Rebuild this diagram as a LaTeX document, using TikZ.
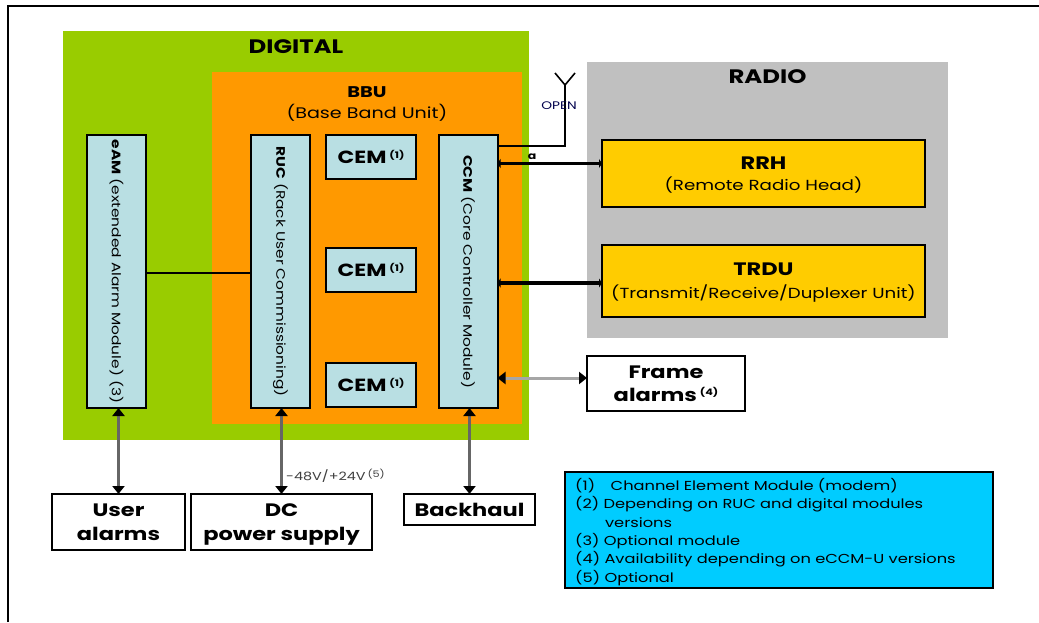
\documentclass[tikz,border=0pt]{standalone}
\usepackage{fontspec}
\setmainfont[FakeStretch=1.25]{Poppins}
\usetikzlibrary{arrows.meta,positioning}
\definecolor{digitalgreen}{HTML}{99CC00}
\definecolor{bbuorange}{HTML}{FF9900}
\definecolor{radiogrey}{HTML}{C0C0C0}
\definecolor{modblue}{HTML}{B9DFE3}
\definecolor{rfyellow}{HTML}{FFCC00}
\definecolor{noteblue}{HTML}{00CCFF}
\newcommand{\fsz}[1]{\fontsize{#1}{#1}\selectfont\lineskiplimit=-30pt\relax}
\newcommand{\noteref}[1]{\raisebox{.55ex}{\fsz{9}(#1)}}
\tikzset{
    %Define standard arrow tip
    >={Triangle[length=8pt,width=12pt,color=black]},
    %Define style for boxes
    region/.style={
           rectangle,
           anchor=north west,
           inner sep=0pt,
           outer sep=0pt},
    regiontitle/.style={
           font=\fsz{19.5}\bfseries,
           inner sep=0pt},
    module/.style={
           rectangle,
           draw=black, line width=2pt,
           fill=modblue,
           inner sep=0pt,
           outer sep=0pt,
           minimum width=59pt,
           minimum height=273pt},
    vertlabel/.style={
           rotate=-90,
           font=\fsz{12.3},
           inner sep=0pt},
    cemrect/.style={
           rectangle,
           draw=black, line width=2pt,
           fill=modblue,
           inner sep=0pt,
           outer sep=0pt,
           minimum width=90pt,
           minimum height=44pt,
           font=\fsz{17.6}\bfseries},
    rfrect/.style={
           rectangle,
           draw=black, line width=2pt,
           fill=rfyellow,
           inner sep=0pt,
           outer sep=0pt,
           minimum width=323pt,
           text depth=0pt,
           align=center},
    extrect/.style={
           rectangle,
           draw=black, line width=2pt,
           fill=white,
           inner sep=0pt,
           outer sep=0pt,
           text depth=0pt,
           align=center,
           font=\fsz{18}\bfseries},
    % Define arrow style
    pil/.style={
           <->,
           draw=black!60,
           line width=2.4pt},
    rfline/.style={
           {Triangle[length=3pt,width=9pt]}-{Triangle[length=3pt,width=9pt]},
           line width=3.8pt}
}
\begin{document}
\begin{tikzpicture}[x=1pt,y=-1pt]
\useasboundingbox[fill=white] (0,0) rectangle (1039,622);
\draw[line width=2pt] (8,622) -- (8,6) -- (1039,6);
% areas
\node[region,fill=digitalgreen,minimum width=466pt,minimum height=409pt] (digital) at (63,31) {};
\node[region,fill=bbuorange,minimum width=310pt,minimum height=352pt] (bbu) at (212,72) {};
\node[region,fill=radiogrey,minimum width=361pt,minimum height=276pt] (radio) at (587,62) {};
\node[regiontitle,below=8pt of digital.north] (digitaltitle) {DIGITAL};
\node[regiontitle,below=7pt of radio.north] (radiotitle) {RADIO};
\node[inner sep=0pt,align=center,below=14pt of bbu.north] (bbutitle)
    {{\fsz{15.5}\bfseries BBU}\\[6pt]\fsz{15.3}(Base Band Unit)};
% modules
\node[module] (eam) at (116.5,271.5) {};
\node[module] (ruc) at (280.5,271.5) {};
\node[module] (ccm) at (468,271.5) {};
\node[vertlabel] (eamtext) at (eam) {\textbf{eAM} (extended Alarm Module) (3)};
\node[vertlabel] (ructext) at (ruc) {\textbf{RUC} (Rack User Commissioning)};
\node[vertlabel] (ccmtext) at (ccm) {\textbf{CCM} (Core Controller Module)};
\node[cemrect] (cem1) at (371,157) {CEM\,\noteref{1}};
\node[cemrect,below=69pt of cem1] (cem2) {CEM\,\noteref{1}};
\node[cemrect,below=71pt of cem2] (cem3) {CEM\,\noteref{1}};
% radio
\node[rfrect,minimum height=67pt] (rrh) at (763.5,173.5)
    {{\fsz{18}\bfseries RRH}\\[7pt]\fsz{14.6}(Remote Radio Head)};
\node[rfrect,minimum height=72pt,below=38pt of rrh] (trdu)
    {{\fsz{18}\bfseries TRDU}\\[8pt]\fsz{14.6}(Transmit/Receive/Duplexer Unit)};
% outside
\node[extrect,minimum width=133pt,minimum height=56pt] (user) at (118.5,522) {User\\[6pt]alarms};
\node[extrect,minimum width=181pt,minimum height=56pt,right=6pt of user] (dc) {DC\\[6pt]power supply};
\node[extrect,minimum width=131pt,minimum height=31pt,anchor=north west] (backhaul) at (404,494) {Backhaul};
\node[extrect,minimum width=158pt,minimum height=55pt,anchor=north west] (frame) at (587,356)
    {Frame\\[5pt]alarms\,\noteref{4}};
\node[rectangle,draw=black,line width=2pt,fill=noteblue,anchor=north west,inner sep=0pt,
    outer sep=0pt,minimum width=428pt,minimum height=116pt] (notes) at (565,472) {};
\node[anchor=north west,inner sep=0pt,align=left,font=\fsz{13}] (notestext) at (575,478) {%
(1)\hspace{1.2em}Channel Element Module (modem)\\[5.4pt]
(2) Depending on RUC and digital modules\\[5.4pt]
\hspace{2.3em}versions\\[5.4pt]
(3) Optional module\\[5.4pt]
(4) Availability depending on eCCM-U versions\\[5.4pt]
(5) Optional};
% connectors
\draw[line width=2pt] ([yshift=-1pt]eam.east) -- ([yshift=-1pt]ruc.west);
\draw[pil] (user.north) -- (user.north |- eam.south);
\draw[pil] (dc.north) -- (dc.north |- ruc.south);
\draw[pil] (backhaul.north) -- (backhaul.north |- ccm.south);
\draw[<->,draw=black!35,line width=3pt]
    ([yshift=5.5pt]frame.west) -- ([yshift=5.5pt]frame.west -| ccm.east);
\draw[rfline] ([yshift=10pt]rrh.west) -- ([yshift=10pt]rrh.west -| ccm.east);
\draw[rfline] ([yshift=-2pt]trdu.west) -- ([yshift=-2pt]trdu.west -| ccm.east);
% antenna
\coordinate (feed) at (498,146);
\coordinate (ant) at (565,85);
\draw[line width=1.6pt] (feed) -| (ant) -- ++(-10,-12) (ant) -- ++(10,-12);
\node[font=\fsz{11},text=black!70!blue,inner sep=0pt] (open) at (559,106) {OPEN};
\node[font=\fsz{10}\bfseries,inner sep=0pt] (tick) at (532,157) {a};
\node[font=\fsz{11.5},text=black!75,anchor=west,inner sep=0pt] (dclabel) at (286,476) {-48V/+24V\,\noteref{5}};
\end{tikzpicture}
\end{document}
